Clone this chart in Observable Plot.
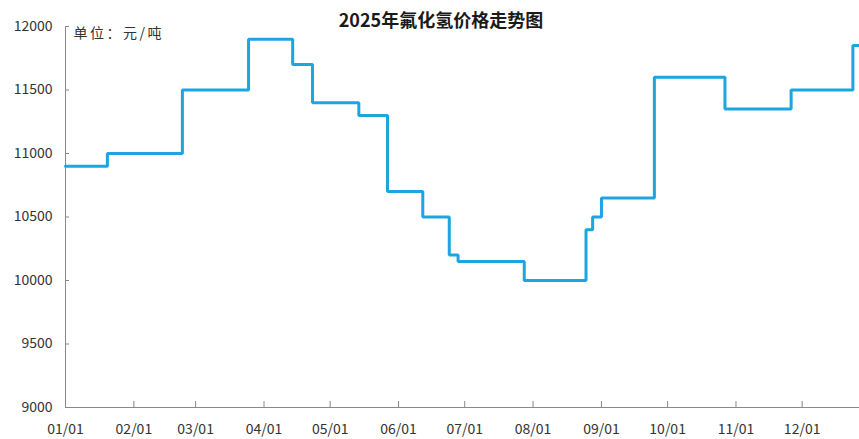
<!DOCTYPE html>
<html>
<head>
<meta charset="utf-8">
<script src="https://cdn.jsdelivr.net/npm/d3@7"></script>
<script src="https://cdn.jsdelivr.net/npm/@observablehq/plot@0.6"></script>
<style>
  html, body { margin: 0; padding: 0; background: #fff; }
  #wrap { position: relative; width: 859px; height: 439px; overflow: hidden; }
  #title { position: absolute; left: 0; top: 6px; width: 882px; text-align: center;
           font-family: "Noto Sans CJK SC", sans-serif; font-weight: bold; font-size: 18px; color: #1a1a1a; line-height: 26px; }
  #chart { position: absolute; left: 0; top: 0; }
  #chart svg g[aria-label="text"] text { letter-spacing: 2.5px; }
</style>
</head>
<body>
<div id="wrap">
  <div id="chart"></div>
  <div id="title">2025年氟化氢价格走势图</div>
</div>
<script>
// Price change dates and the price in effect from that date (元/吨)
const dates = ["2025-01-01","2025-01-20","2025-02-23","2025-03-25","2025-04-14","2025-04-23","2025-05-14","2025-05-27","2025-06-12","2025-06-24","2025-06-28","2025-07-28","2025-08-25","2025-08-28","2025-09-01","2025-09-25","2025-10-27","2025-11-26","2025-12-24","2025-12-27"];
const prices = [10900,11000,11500,11900,11700,11400,11300,10700,10500,10200,10150,10000,10400,10500,10650,11600,11350,11500,11850,11850];
const yTicks = [9000,9500,10000,10500,11000,11500,12000];
const xTicks = ["2025-01-01","2025-02-01","2025-03-01","2025-04-01","2025-05-01","2025-06-01","2025-07-01","2025-08-01","2025-09-01","2025-10-01","2025-11-01","2025-12-01"];
const yLabel = "单位：元/吨";

const data = dates.map((d, i) => ({date: new Date(d), price: prices[i]}));
const xTickDates = xTicks.map(d => new Date(d));
const xDomain = [new Date("2025-01-01"), new Date("2025-12-27")];

const font = '"Noto Sans CJK SC", sans-serif';
const chart = Plot.plot({
  width: 859,
  height: 439,
  marginLeft: 65,
  marginRight: 0,
  marginTop: 26,
  marginBottom: 32,
  style: {fontFamily: font, fontSize: "14px", color: "#333", background: "#fff"},
  x: {type: "utc", domain: xDomain, label: null},
  y: {domain: [9000, 12000], label: null},
  marks: [
    Plot.axisY(yTicks, {tickSize: 0, tickPadding: 13, tickFormat: d3.format("d"), fontSize: 14, fill: "#333", label: null}),
    Plot.axisX(xTickDates, {tickSize: 0, tickPadding: 17, tickFormat: d3.utcFormat("%m/%d"), fontSize: 14, fill: "#333", label: null}),
    Plot.tickX(xTickDates, {x: d => d, insetTop: 375, stroke: "#888", strokeWidth: 1}),
    Plot.tickY(yTicks, {y: d => d, insetRight: 790, stroke: "#888", strokeWidth: 1}),
    Plot.ruleY([9000], {stroke: "#888", strokeWidth: 1}),
    Plot.ruleX([xDomain[0]], {stroke: "#888", strokeWidth: 1}),
    Plot.line(data, {x: "date", y: "price", curve: "step-after", stroke: "#1CA5DF", strokeWidth: 3, strokeLinejoin: "miter"}),
    Plot.text([yLabel], {frameAnchor: "top-left", dx: 8, dy: 7, text: d => d, textAnchor: "start", lineAnchor: "middle", fontSize: 14, fill: "#333", fontFamily: font})
  ]
});
document.getElementById("chart").appendChild(chart);
</script>
</body>
</html>
